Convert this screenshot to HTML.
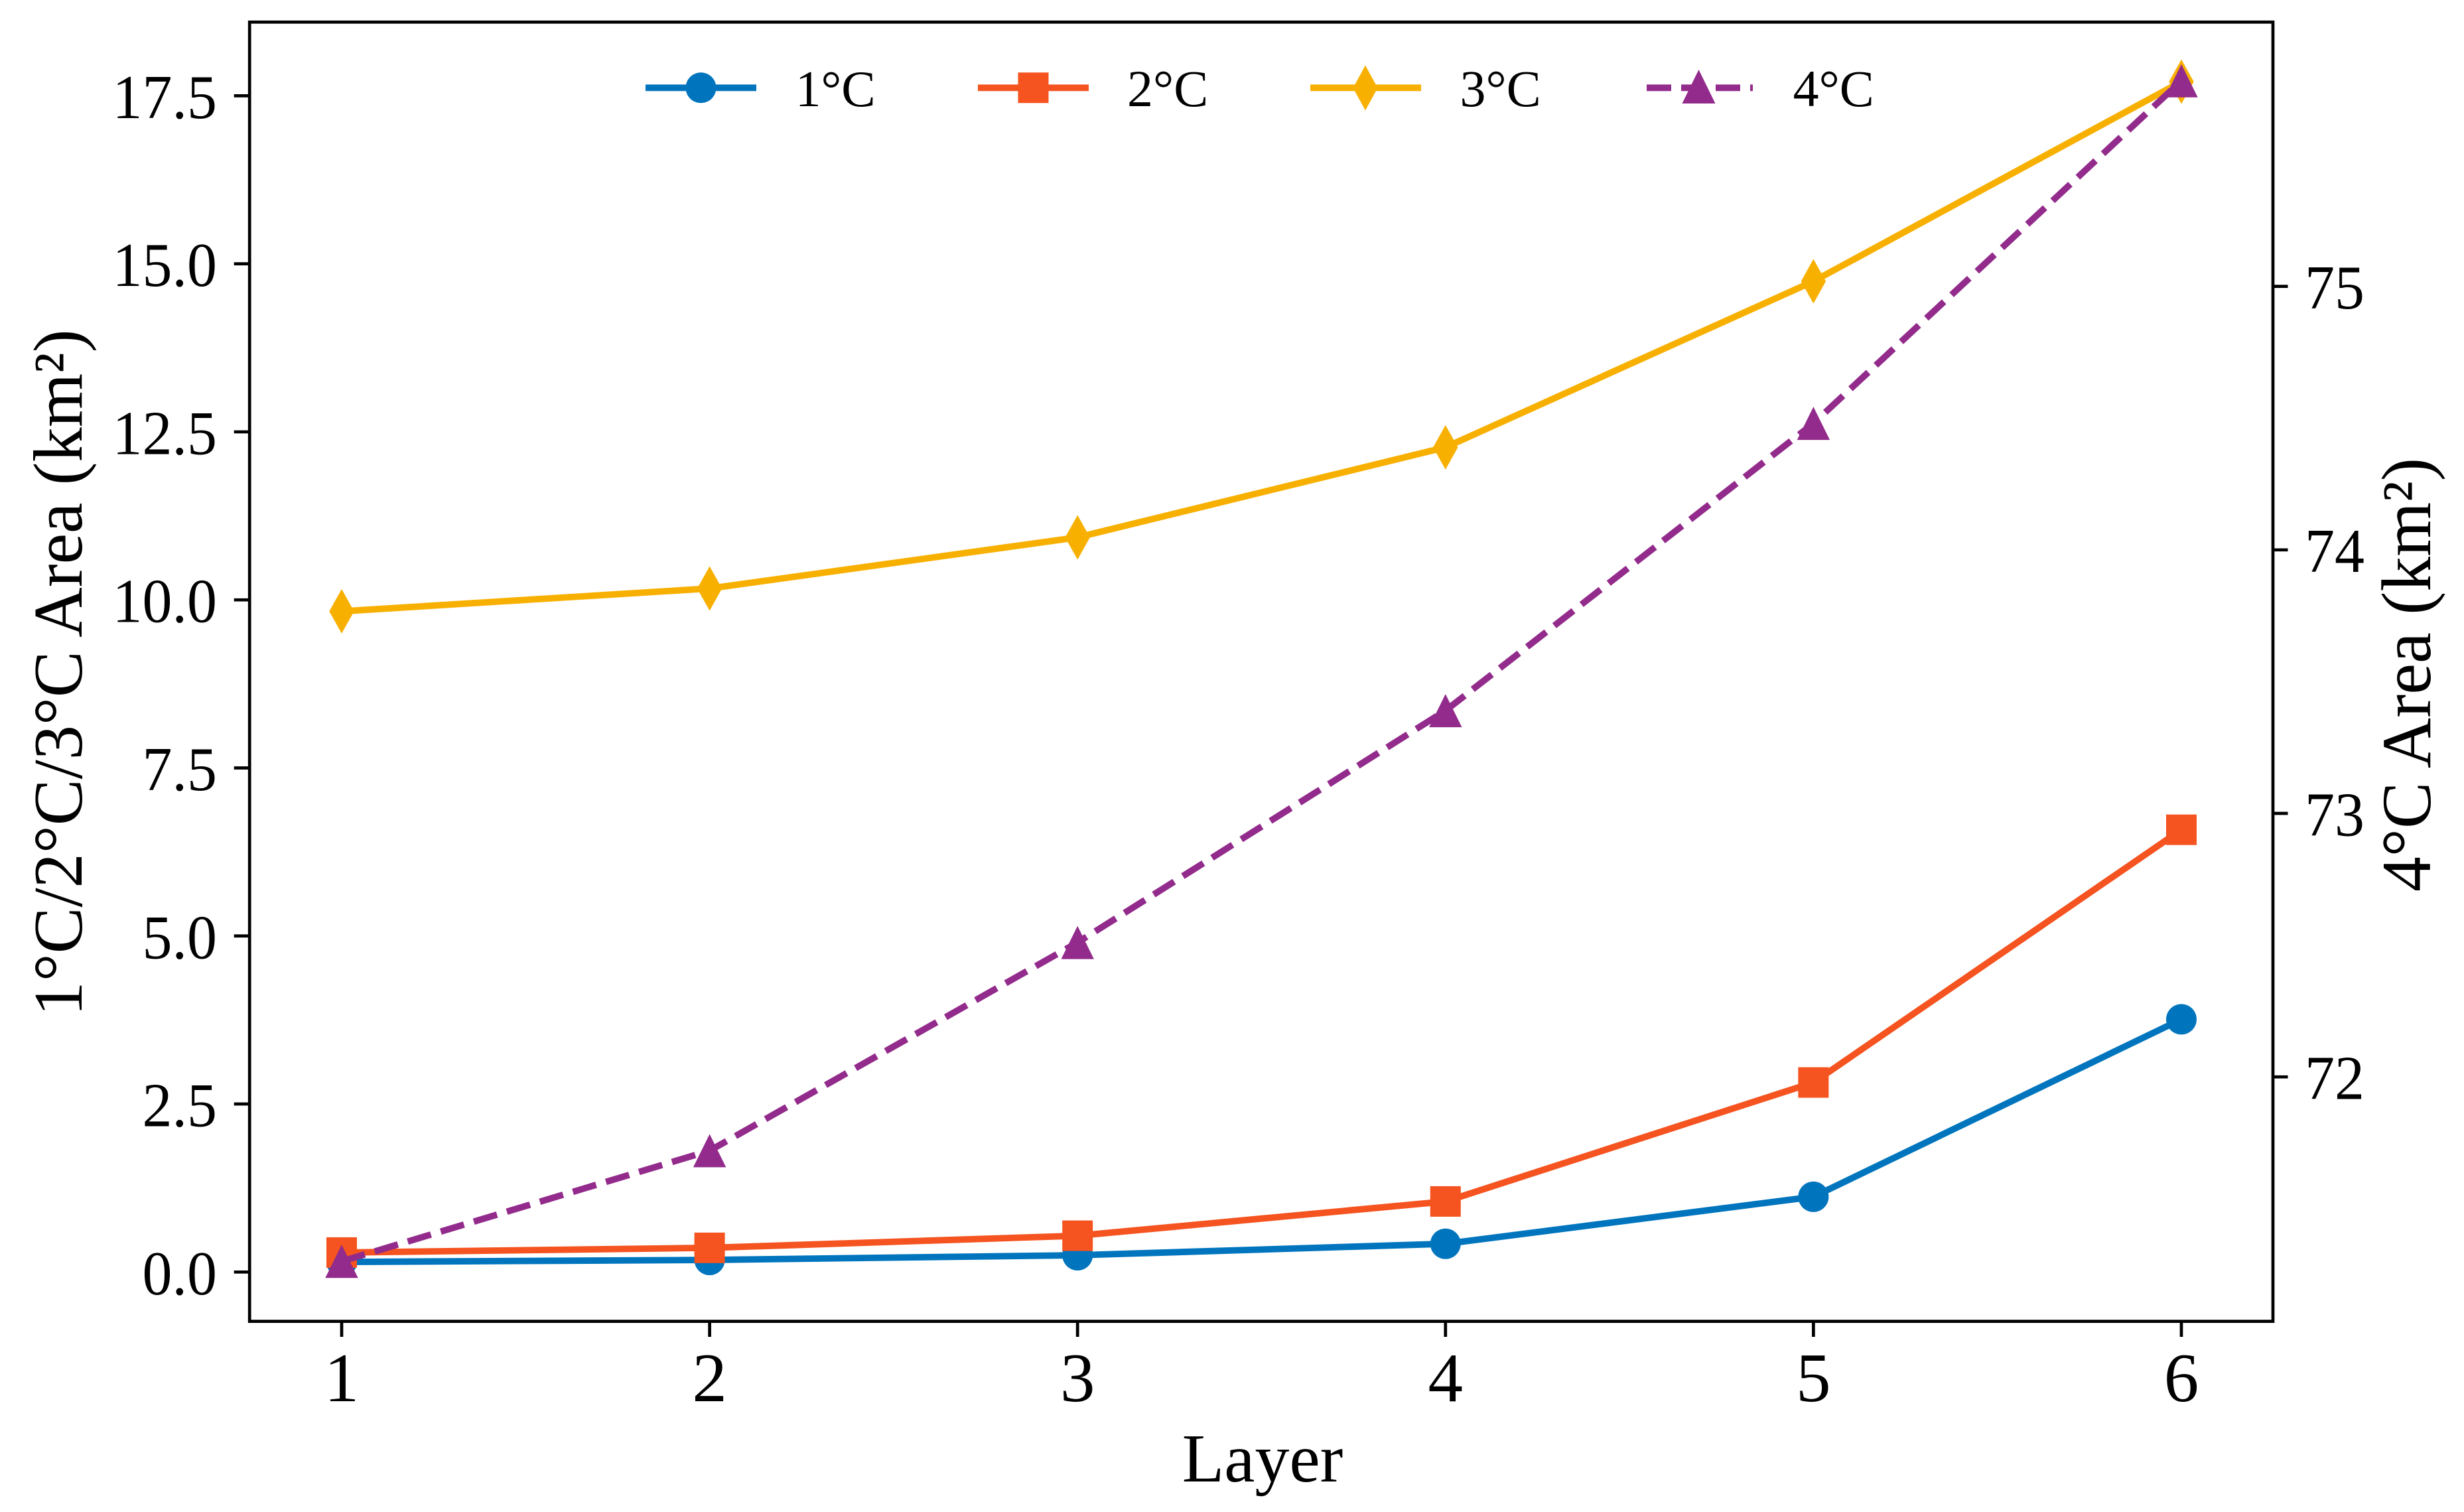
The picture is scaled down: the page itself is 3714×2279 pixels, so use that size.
<!DOCTYPE html>
<html lang="en">
<head>
<meta charset="utf-8">
<title>Area by layer for warming levels</title>
<style>
  html, body { margin: 0; padding: 0; background: #fff; }
  svg { display: block; }
  text { font-family: "Liberation Serif", "Times New Roman", serif; fill: #000; }
</style>
</head>
<body>
<svg id="chart" xmlns="http://www.w3.org/2000/svg" width="3714" height="2279" viewBox="0 0 3714 2279">
  <rect x="0" y="0" width="3714" height="2279" fill="#ffffff"/>
  <g id="ticks"></g>
  <g id="marks"></g>
  <rect x="376.2" y="33.3" width="3049.8" height="1958.3" fill="none" stroke="#000" stroke-width="4.7"/>

  <text x="1903" y="2233" font-size="104" text-anchor="middle">Layer</text>
  <text transform="translate(123 1014) rotate(-90)" font-size="104.7" text-anchor="middle">1°C/2°C/3°C Area (km²)</text>
  <text transform="translate(3663 1017) rotate(-90)" font-size="105.5" text-anchor="middle">4°C Area (km²)</text>

  <g>
    <g>
      <line x1="973" y1="132.3" x2="1140" y2="132.3" stroke="#0075BE" stroke-width="9.8"/>
      <circle cx="1056.5" cy="132.3" r="23" fill="#0075BE"/>
      <text x="1199" y="160" font-size="77">1°C</text>
    </g>
    <g>
      <line x1="1474" y1="132.3" x2="1641" y2="132.3" stroke="#F5531F" stroke-width="9.8"/>
      <rect x="1534.5" y="109.3" width="46" height="46" fill="#F5531F"/>
      <text x="1699" y="160" font-size="78">2°C</text>
    </g>
    <g>
      <line x1="1975" y1="132.3" x2="2142" y2="132.3" stroke="#F8B000" stroke-width="9.8"/>
      <polygon points="2058,98.5 2076.5,132.5 2058,166.5 2039.5,132.5" fill="#F8B000"/>
      <text x="2200.5" y="160" font-size="78">3°C</text>
    </g>
    <g>
      <line x1="2482" y1="132.3" x2="2642" y2="132.3" stroke="#922B8B" stroke-width="9.8" stroke-dasharray="37 15"/>
      <polygon points="2560.5,105 2585.5,156 2535.5,156" fill="#922B8B"/>
      <text x="2702.6" y="160" font-size="78">4°C</text>
    </g>
  </g>
</svg>

<script>
// ---- chart data ----
const layers = [1, 2, 3, 4, 5, 6];
const area1C = [0.15, 0.18, 0.25, 0.42, 1.12, 3.76];
const area2C = [0.29, 0.36, 0.54, 1.05, 2.82, 6.58];
const area3C = [9.83, 10.17, 10.93, 12.27, 14.74, 17.71];
const area4C = [71.30, 71.72, 72.51, 73.39, 74.48, 75.78];
const xTickValues = [1, 2, 3, 4, 5, 6];
const leftTickValues = [0, 2.5, 5, 7.5, 10, 12.5, 15, 17.5];
const leftTickLabels = ["0.0", "2.5", "5.0", "7.5", "10.0", "12.5", "15.0", "17.5"];
const rightTickValues = [72, 73, 74, 75];
const rightTickLabels = ["72", "73", "74", "75"];

// ---- axis functions ----
function xScale(v) { return 515 + (v - 1) * 554.6; }
function leftScale(v) { return 1917.3 - v * 101.31; }
function rightScale(v) { return 1623.2 - (v - 72) * 397.2; }

const SVG_NS = "http://www.w3.org/2000/svg";
const marksLayer = document.getElementById("marks");
const ticksLayer = document.getElementById("ticks");

function create(tag, attrs, parent) {
  const node = document.createElementNS(SVG_NS, tag);
  for (const key in attrs) node.setAttribute(key, attrs[key]);
  parent.appendChild(node);
  return node;
}

// ---- ticks ----
xTickValues.forEach(function (v) {
  const px = xScale(v);
  const tick = create("line", { x1: px, y1: 1991.6, x2: px, y2: 2015, stroke: "#000", "stroke-width": 4.7 }, ticksLayer);
  
  
  const label = create("text", { x: px, y: 2112, "font-size": 105, "text-anchor": "middle" }, ticksLayer);
  label.textContent = String(v);
  
  
});

leftTickValues.forEach(function (v, i) {
  const py = leftScale(v);
  const tick = create("line", { x1: 352.7, y1: py, x2: 376, y2: py, stroke: "#000", "stroke-width": 4.7 }, ticksLayer);
  
  
  const label = create("text", { transform: "translate(327 " + (py + 33.5) + ") scale(1 1.045)", "font-size": 90, "text-anchor": "end" }, ticksLayer);
  label.textContent = leftTickLabels[i];
  
  
});

rightTickValues.forEach(function (v, i) {
  const py = rightScale(v);
  const tick = create("line", { x1: 3426, y1: py, x2: 3448.5, y2: py, stroke: "#000", "stroke-width": 4.7 }, ticksLayer);
  
  
  const label = create("text", { transform: "translate(3474 " + (py + 33.3) + ") scale(1 1.045)", "font-size": 90 }, ticksLayer);
  label.textContent = rightTickLabels[i];
  
  
});

// ---- series ----
function drawSeriesLine(values, yScale, color, dash) {
  const pts = values.map(function (v, i) { return xScale(layers[i]) + "," + yScale(v); }).join(" ");
  const attrs = { points: pts, fill: "none", stroke: color, "stroke-width": 9.8, "stroke-linejoin": "round" };
  if (dash) attrs["stroke-dasharray"] = dash;
  return create("polyline", attrs, marksLayer);
}

function drawMarker(kind, cx, cy, color) {
  if (kind === "circle") return create("circle", { cx: cx, cy: cy, r: 23, fill: color }, marksLayer);
  if (kind === "square") return create("rect", { x: cx - 23, y: cy - 23, width: 46, height: 46, fill: color }, marksLayer);
  if (kind === "diamond") {
    return create("polygon", { points: [cx, cy - 33.5, cx + 18.7, cy, cx, cy + 33.5, cx - 18.7, cy].join(" "), fill: color }, marksLayer);
  }
  return create("polygon", { points: [cx, cy - 25, cx + 24.7, cy + 25, cx - 24.7, cy + 25].join(" "), fill: color }, marksLayer);
}

const line1C = drawSeriesLine(area1C, leftScale, "#0075BE");


area1C.forEach(function (v, i) {
  const m = drawMarker("circle", xScale(layers[i]), leftScale(v), "#0075BE");
  
  
});

const line2C = drawSeriesLine(area2C, leftScale, "#F5531F");


area2C.forEach(function (v, i) {
  const m = drawMarker("square", xScale(layers[i]), leftScale(v), "#F5531F");
  
  
});

const line3C = drawSeriesLine(area3C, leftScale, "#F8B000");


area3C.forEach(function (v, i) {
  const m = drawMarker("diamond", xScale(layers[i]), leftScale(v), "#F8B000");
  
  
});

const line4C = drawSeriesLine(area4C, rightScale, "#922B8B", "36.5 15.5");


area4C.forEach(function (v, i) {
  const m = drawMarker("triangle", xScale(layers[i]), rightScale(v), "#922B8B");
  
  
});
</script>
</body>
</html>
